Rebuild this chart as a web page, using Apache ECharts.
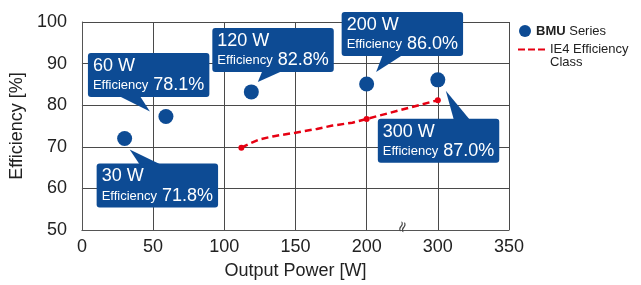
<!DOCTYPE html>
<html>
<head>
<meta charset="utf-8">
<script src="https://cdn.jsdelivr.net/npm/echarts@6/dist/echarts.min.js"></script>
<style>
html,body{margin:0;padding:0;background:#fff;}
#chart{width:641px;height:285px;}
</style>
</head>
<body>
<div id="chart"></div>
<script>
// ---- data ----
const bmuPowerW = [30, 60, 120, 200, 300];            // rated power shown in callouts
const bmuEfficiency = ['71.8', '78.1', '82.8', '86.0', '87.0']; // efficiency shown in callouts
const bmuPlotX = [30, 59, 119, 200, 300];             // plotted output power
const bmuPlotY = [72.0, 77.3, 83.2, 85.1, 86.1];      // plotted efficiency
const ie4X = [112, 118, 125, 134, 150, 165, 176, 190, 200, 300];
const ie4Y = [69.8, 70.8, 71.8, 72.5, 73.4, 74.3, 75.1, 75.8, 76.7, 81.2];
const ie4MarkedX = [112, 200, 300];
const xTickLabels = ['0', '50', '100', '150', '200', '300', '350'];
const seriesNames = ['BMU Series', 'IE4 Efficiency Class'];

// broken x axis: 200 -> 300 is squeezed into one 50-step
const BREAK_AT = 200, BREAK_SKIP = 50;
const toAxis = v => (v > BREAK_AT ? v - BREAK_SKIP : v);

const BLUE = '#0d4b94';
const RED = '#e60012';
const FONT = "'Liberation Sans', Arial, Helvetica, sans-serif";

// callout layout (pixel offsets relative to each point)
const calloutLayout = [
  {dx: -28, dy: 25,    tip: [5, 11],    base: [15, 36],   side: 'top'},
  {dx: -78, dy: -63.5, tip: [-16, -5],  base: [-47, -26], side: 'bottom'},
  {dx: -39, dy: -64,   tip: [6.5, -10], base: [11, 31],   side: 'bottom'},
  {dx: -25, dy: -72,   tip: [9.5, -12], base: [16, 36],   side: 'bottom'},
  {dx: -60, dy: 39,    tip: [8, 11],    base: [16, 32],   side: 'top'}
];
const BOX_H = 44;

const bmuData = bmuPlotX.map((x, i) => [toAxis(x), bmuPlotY[i], i]);
const ie4Data = ie4X.map((x, i) => ({
  value: [toAxis(x), ie4Y[i]],
  symbol: ie4MarkedX.indexOf(x) >= 0 ? 'circle' : 'none'
}));

const chart = echarts.init(document.getElementById('chart'), null, {renderer: 'canvas'});

const option = {
  animation: false,
  textStyle: {fontFamily: FONT},
  grid: {left: 80, top: 22, right: 132, bottom: 50, containLabel: false},
  legend: [
    {
      data: [{name: seriesNames[0], icon: 'circle', itemStyle: {color: BLUE, opacity: 1}}],
      left: 519, top: 24.5, padding: 0, orient: 'vertical',
      itemWidth: 12, itemHeight: 12, selectedMode: false,
      formatter: () => '{b|BMU} Series',
      textStyle: {fontFamily: FONT, fontSize: 13, color: '#222', rich: {b: {fontFamily: FONT, fontSize: 13, fontWeight: 'bold', color: '#222'}}}
    },
    {
      data: [{name: seriesNames[1], icon: 'path://M0 0H7V2H0Z M10 0H17V2H10Z M20 0H27V2H20Z'}],
      left: 518, top: 30.5, padding: 0, orient: 'vertical',
      itemWidth: 27, itemHeight: 2, selectedMode: false,
      itemStyle: {color: RED},
      formatter: () => ' \nIE4 Efficiency\nClass',
      textStyle: {fontFamily: FONT, fontSize: 13, lineHeight: 12.5, color: '#222'}
    }
  ],
  xAxis: {
    type: 'value', min: 0, max: 300, interval: 50,
    name: 'Output Power [W]', nameLocation: 'middle', nameGap: 32,
    nameTextStyle: {fontFamily: FONT, fontSize: 18, color: '#222'},
    axisLine: {show: true, lineStyle: {color: '#555', width: 1}},
    axisTick: {show: false},
    axisLabel: {fontFamily: FONT, fontSize: 18, color: '#222', margin: 8.5,
      formatter: (v, idx) => xTickLabels[idx]},
    splitLine: {show: true, lineStyle: {color: '#4a4a4a', width: 1}}
  },
  yAxis: {
    type: 'value', min: 50, max: 100, interval: 10,
    name: 'Efficiency [%]', nameLocation: 'middle', nameGap: 40, nameRotate: 90,
    nameTextStyle: {fontFamily: FONT, fontSize: 18, color: '#222'},
    axisLine: {show: true, lineStyle: {color: '#555', width: 1}},
    axisTick: {show: false},
    axisLabel: {fontFamily: FONT, fontSize: 18, color: '#222', margin: 15},
    splitLine: {show: true, lineStyle: {color: '#4a4a4a', width: 1}}
  },
  series: [
    {
      name: seriesNames[1], type: 'line', data: ie4Data, z: 3,
      symbolSize: 6, showSymbol: true,
      lineStyle: {color: RED, width: 2.5, type: [7, 4]},
      itemStyle: {color: RED}
    },
    {
      name: seriesNames[0], type: 'scatter', data: bmuData, z: 4,
      symbol: 'circle', symbolSize: 15,
      itemStyle: {color: BLUE, opacity: 1}
    },
    {
      name: 'callouts', type: 'custom', data: bmuData, z: 5, clip: false,
      renderItem: function (params, api) {
        const i = api.value(2);
        const p = api.coord([api.value(0), api.value(1)]);
        const L = calloutLayout[i];
        const bx = p[0] + L.dx, by = p[1] + L.dy;
        const edgeY = L.side === 'top' ? by + 1 : by + BOX_H - 1;
        return {
          type: 'group',
          children: [
            {type: 'polygon', shape: {points: [
              [p[0] + L.tip[0], p[1] + L.tip[1]],
              [p[0] + L.base[0], edgeY],
              [p[0] + L.base[1], edgeY]
            ]}, style: {fill: BLUE}},
            {type: 'text', x: bx, y: by, style: {
              text: '{a|' + bmuPowerW[i] + ' W}\n{b|Efficiency}{c| ' + bmuEfficiency[i] + '%}',
              fill: '#fff', fontFamily: FONT, fontSize: 13,
              align: 'left', verticalAlign: 'top',
              backgroundColor: BLUE, borderRadius: 3, padding: [3, 5, 2, 5],
              rich: {
                a: {fontFamily: FONT, fontSize: 18, lineHeight: 20, fill: '#fff', color: '#fff'},
                b: {fontFamily: FONT, fontSize: 13, lineHeight: 19, fill: '#fff', color: '#fff'},
                c: {fontFamily: FONT, fontSize: 18, lineHeight: 19, fill: '#fff', color: '#fff'}
              }
            }}
          ]
        };
      }
    }
  ]
};
chart.setOption(option);

// axis break mark
const bp = chart.convertToPixel({gridIndex: 0}, [225, 50]);
chart.setOption({
  graphic: [{
    type: 'text', x: bp[0] + 1, y: bp[1] - 3, rotation: Math.PI / 2 - 0.3, z: 10,
    style: {text: '≈', fontFamily: "'DejaVu Sans', sans-serif", fontSize: 15, fill: '#444', align: 'center', verticalAlign: 'middle'}
  }]
});
</script>
</body>
</html>
